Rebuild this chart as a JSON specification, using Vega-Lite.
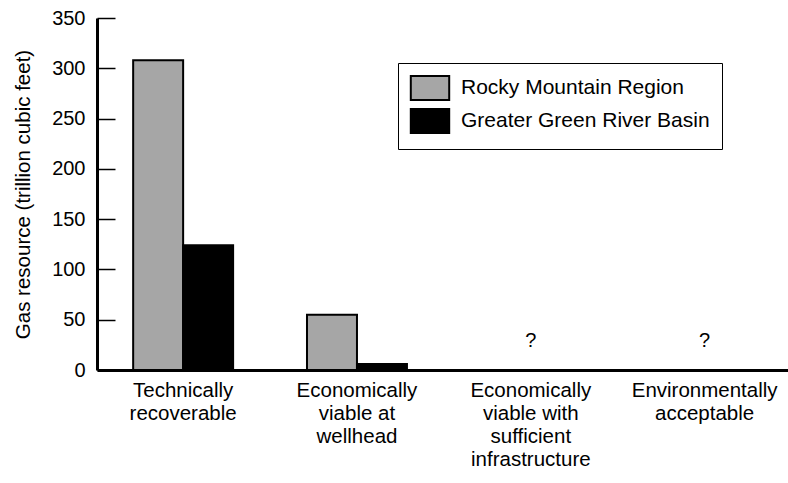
{
  "$schema": "https://vega.github.io/schema/vega-lite/v6.json",
  "autosize": "none",
  "width": 691,
  "height": 352,
  "padding": {"left": 97, "top": 18, "right": 0, "bottom": 113},
  "background": "white",
  "config": {
    "font": "Liberation Sans",
    "view": {"stroke": null},
    "axis": {"grid": false, "labelColor": "black", "titleColor": "black", "labelFont": "Liberation Sans", "titleFont": "Liberation Sans"}
  },
  "layer": [
    {
      "data": {"values": [
        {"category": "Technically\nrecoverable", "series": "Rocky Mountain Region", "value": 308},
        {"category": "Technically\nrecoverable", "series": "Greater Green River Basin", "value": 124},
        {"category": "Economically\nviable at\nwellhead", "series": "Rocky Mountain Region", "value": 55},
        {"category": "Economically\nviable at\nwellhead", "series": "Greater Green River Basin", "value": 6}
      ]},
      "mark": {"type": "bar", "stroke": "black", "strokeWidth": 2},
      "encoding": {
        "x": {
          "field": "category", "type": "nominal",
          "scale": {"domain": ["Technically\nrecoverable", "Economically\nviable at\nwellhead", "Economically\nviable with\nsufficient\ninfrastructure", "Environmentally\nacceptable"], "paddingInner": 0.425, "paddingOuter": 0.2, "align": 0.52},
          "axis": {"title": null, "labelAngle": 0, "labelExpr": "split(datum.label, '\\n')", "labelFontSize": 20.5, "labelLineHeight": 23, "labelPadding": 10, "labelLimit": 300, "ticks": false, "domainColor": "black", "domainWidth": 3, "labelBaseline": "top"}
        },
        "xOffset": {"field": "series", "type": "nominal", "scale": {"domain": ["Rocky Mountain Region", "Greater Green River Basin"], "paddingInner": 0, "paddingOuter": 0}},
        "y": {
          "field": "value", "type": "quantitative",
          "scale": {"domain": [0, 350], "nice": false},
          "axis": {"title": "Gas resource (trillion cubic feet)", "titleFontSize": 20.5, "titleFontWeight": "normal", "titlePadding": 18, "values": [0, 50, 100, 150, 200, 250, 300, 350], "labelFontSize": 20, "tickSize": -18, "tickWidth": 1.5, "tickColor": "black", "labelPadding": 30, "domainColor": "black", "domainWidth": 3}
        },
        "color": {
          "field": "series", "type": "nominal",
          "scale": {"domain": ["Rocky Mountain Region", "Greater Green River Basin"], "range": ["#a6a6a6", "#000000"]},
          "legend": {
            "title": null, "orient": "none", "legendX": 301, "legendY": 45,
            "fillColor": "white", "strokeColor": "black", "padding": 12,
            "symbolType": "M-1.6,-1H1.6V1H-1.6Z", "symbolSize": 576, "symbolStrokeColor": "black", "symbolStrokeWidth": 2, "symbolOpacity": 1, "symbolOffset": 7,
            "labelFontSize": 21, "labelFont": "Liberation Sans", "labelColor": "black", "labelOffset": 18, "rowPadding": 1, "labelLimit": 400
          }
        }
      }
    },
    {
      "data": {"values": [
        {"category": "Economically\nviable with\nsufficient\ninfrastructure", "note": "?"},
        {"category": "Environmentally\nacceptable", "note": "?"}
      ]},
      "mark": {"type": "text", "fontSize": 20, "baseline": "alphabetic", "align": "center", "color": "black"},
      "encoding": {
        "x": {"field": "category", "type": "nominal"},
        "y": {"datum": 23, "type": "quantitative"},
        "text": {"field": "note"}
      }
    },
    {
      "mark": {"type": "rule", "color": "black", "strokeWidth": 1.5},
      "encoding": {"y": {"datum": 350, "type": "quantitative"}}
    }
  ]
}
